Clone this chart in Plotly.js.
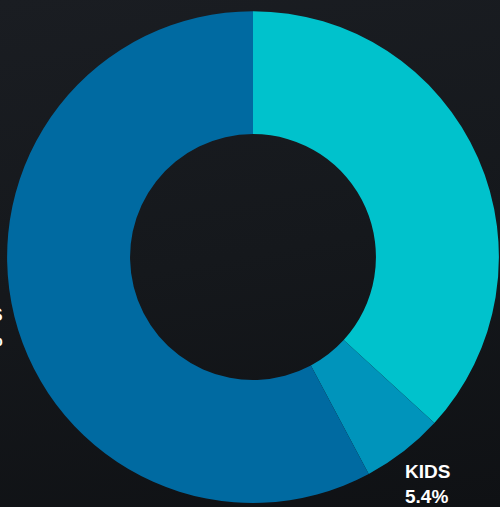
<!DOCTYPE html>
<html>
<head>
<meta charset="utf-8">
<script src="https://cdn.plot.ly/plotly-3.0.1.min.js"></script>
<style>
html,body{margin:0;padding:0;overflow:hidden;}
body{background:linear-gradient(170deg,#1a1d22 0%,#15181c 50%,#0f1114 100%);}
#chart{width:500px;height:507px;}
</style>
</head>
<body>
<div id="chart"></div>
<script>
const categories = ["TEENS", "KIDS", "ADULTS"];
const shares = [36.8, 5.4, 57.8];
const sliceColors = ["#00c2cc", "#0094bb", "#006aa1"];
const labelShown = [false, true, true];

const W = 500, H = 507;
const domX = [0.014, 0.998], domY = [0.008, 0.978];

const trace = {
  type: "pie",
  labels: categories,
  values: shares,
  hole: 0.5,
  sort: false,
  direction: "clockwise",
  rotation: 0,
  marker: {colors: sliceColors, line: {width: 0}},
  textinfo: "none",
  hoverinfo: "none",
  domain: {x: domX, y: domY}
};

// label placement derived from the data (mid-angle of each slice)
const cx = W * (domX[0] + domX[1]) / 2;
const cy = H * (1 - (domY[0] + domY[1]) / 2);
const R = Math.min(W * (domX[1] - domX[0]), H * (domY[1] - domY[0])) / 2;
const labelR = R * 1.167;
const total = shares.reduce((a, b) => a + b, 0);
let acc = 0;
const annotations = [];
shares.forEach((v, i) => {
  const mid = (acc + v / 2) / total * 2 * Math.PI;
  acc += v;
  if (!labelShown[i]) return;
  const px = cx + labelR * Math.sin(mid);
  const py = cy - labelR * Math.cos(mid);
  const right = Math.sin(mid) >= 0;
  annotations.push({
    xref: "paper", yref: "paper",
    x: (px + (right ? -26 : 30)) / W,
    y: 1 - py / H,
    xanchor: right ? "left" : "right",
    yanchor: "middle",
    align: right ? "left" : "right",
    showarrow: false,
    text: categories[i] + "<br>" + (v / total * 100).toFixed(1) + "%",
    font: {family: "Liberation Sans, Arial, sans-serif", size: 19, color: "#ffffff", weight: "bold"}
  });
});

Plotly.newPlot("chart", [trace], {
  width: W,
  height: H,
  margin: {l: 0, r: 0, t: 0, b: 0},
  paper_bgcolor: "rgba(0,0,0,0)",
  plot_bgcolor: "rgba(0,0,0,0)",
  showlegend: false,
  annotations: annotations
}, {displayModeBar: false, staticPlot: true});
</script>
</body>
</html>
